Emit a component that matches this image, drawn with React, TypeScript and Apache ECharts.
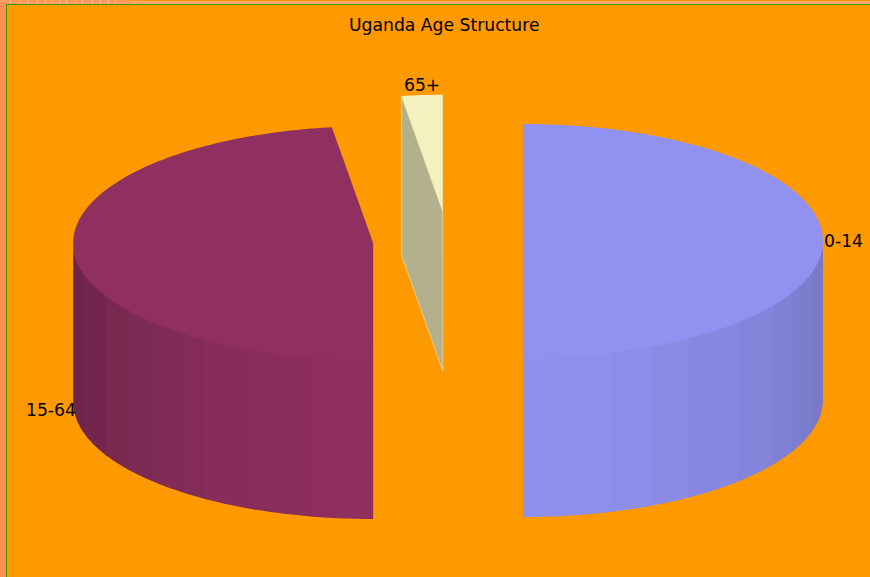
import React, { useEffect, useRef } from "react";
import * as echarts from "echarts";

const TITLE = "Uganda Age Structure";
const sliceNames = ["0-14", "15-64", "65+"];
const sliceValues = [50.0, 47.8, 2.2];
const topColors = ["#9191F1", "#903060", "#F3F1BF"];
const wallRGB = [
  [145, 145, 241],
  [144, 48, 96],
  [179, 176, 142],
];
const wallShade = [0.17, 0.26, 0];
const bandEdges = [
  [0, 6, 17, 25, 33, 45.5, 56, 63, 67, 74, 90],
  [0, 11, 23, 33.6, 39.6, 45.2, 54, 62.5, 75, 90],
  [0, 90],
];
const stripes = [10, 19, 28, 37, 45, 51, 60, 66, 75, 82, 92, 100, 108, 115];

const CX = 448;
const CY = 241;
const RX = 300;
const RY = 117;
const DEPTH = 159;
const EXPLODE = 75;

const rad = (d: number) => (d * Math.PI) / 180;

function renderSlice(params: any, api: any) {
  const i = params.dataIndex;
  const total = sliceValues.reduce((a, b) => a + b, 0);
  const before = sliceValues.slice(0, i).reduce((a, b) => a + b, 0);
  const a0 = (before / total) * 360;
  const a1 = ((before + api.value(0)) / total) * 360;
  const mid = (a0 + a1) / 2;
  const cx = CX + EXPLODE * Math.sin(rad(mid));
  const cy = CY - EXPLODE * Math.cos(rad(mid)) * (RY / RX);
  const pt = (a: number, dz = 0): [number, number] => [
    cx + RX * Math.sin(rad(a)),
    cy - RY * Math.cos(rad(a)) + dz,
  ];
  const arc = (from: number, to: number, dz = 0) => {
    const out: [number, number][] = [];
    const n = Math.max(1, Math.ceil(Math.abs(to - from)));
    for (let k = 0; k <= n; k++) out.push(pt(from + ((to - from) * k) / n, dz));
    return out;
  };
  // Upper edge of a wall band: tucked under the top face, flush at the far sides
  const tucked = (from: number, to: number) => {
    const out: [number, number][] = [];
    const n = Math.max(1, Math.ceil(Math.abs(to - from)));
    for (let k = 0; k <= n; k++) {
      const a = from + ((to - from) * k) / n;
      out.push(pt(a, -2 * Math.abs(Math.cos(rad(a)))));
    }
    return out;
  };
  const children: any[] = [];
  const rgb = wallRGB[i];

  // Cut face that looks towards the viewer
  if (-Math.sin(rad(a0)) > 1e-6) {
    const outer = pt(a0);
    const c: [number, number] = [cx, cy];
    children.push({
      type: "polygon",
      shape: { points: [outer, c, [cx, cy + DEPTH], [outer[0], outer[1] + DEPTH]] },
      style: { fill: `rgb(${rgb.join(",")})`, stroke: topColors[i], lineWidth: 1, strokeOpacity: 0.55 },
    });
  }

  // Outer wall, drawn in bands; the bands nearest the front are drawn last and
  // overlap their outer neighbour a little, so no seam shows between them
  const lo = Math.max(a0, 90);
  const hi = Math.min(a1, 270);
  if (hi > lo) {
    const side = lo < 180 ? 1 : -1;
    const edges = bandEdges[i];
    for (let b = edges.length - 2; b >= 0; b--) {
      const p = side > 0 ? 180 - edges[b + 1] : 180 + edges[b];
      const q = side > 0 ? 180 - edges[b] : 180 + edges[b + 1];
      const from = Math.max(side > 0 ? p - 0.5 : p, lo);
      const to = Math.min(side > 0 ? q : q + 0.5, hi);
      if (to <= from) continue;
      const off = (edges[b] + edges[b + 1]) / 2 / 90;
      const f = 0.985 - wallShade[i] * off * off * (2 - off);
      const fill = `rgb(${rgb.map((v) => Math.round(v * f)).join(",")})`;
      children.push({
        type: "polygon",
        shape: { points: [...tucked(from, to), ...arc(to, from, DEPTH)] },
        style: { fill },
      });
    }
  }

  // Top face
  children.push({
    type: "polygon",
    shape: { points: [[cx, cy], ...arc(a0, a1)] },
    style: { fill: topColors[i] },
  });

  // Label on the rim at the slice's middle angle
  const s = Math.sin(rad(mid));
  const c = Math.cos(rad(mid));
  const at = pt(mid, c < 0 ? DEPTH : 0);
  children.push({
    type: "text",
    x: at[0] + (s > 0.5 ? 1 : s < -0.5 ? 2 : 0),
    y: at[1] + (c > 0.9 ? -2 : 0),
    style: {
      text: sliceNames[i],
      fill: "#000000",
      font: "17.2px 'DejaVu Sans'",
      align: s > 0.5 ? "left" : s < -0.5 ? "right" : "center",
      verticalAlign: c > 0.9 ? "bottom" : "middle",
    },
  });
  return { type: "group", children };
}

export default function App() {
  const ref = useRef<HTMLDivElement>(null);
  useEffect(() => {
    const chart = echarts.init(ref.current!, undefined, { renderer: "svg" });
    chart.setOption({
      animation: false,
      backgroundColor: "#FF9900",
      title: {
        text: TITLE,
        left: 349,
        top: 16,
        padding: 0,
        textStyle: { fontFamily: "DejaVu Sans", fontSize: 17.2, fontWeight: "normal", color: "#000000" },
      },
      graphic: [
        { type: "rect", z: 10, shape: { x: 0, y: 0, width: 6, height: 577 }, style: { fill: "#FF8F50" } },
        { type: "rect", z: 10, shape: { x: 0, y: 0, width: 130, height: 4 }, style: { fill: "#FF9A5C" } },
        { type: "rect", z: 10, shape: { x: 130, y: 1, width: 740, height: 3 }, style: { fill: "#FFA76E" } },
        ...stripes.map((x) => ({
          type: "rect",
          z: 11,
          shape: { x, y: 0, width: 1, height: 4 },
          style: { fill: "#FFBE94" },
        })),
        { type: "rect", z: 12, shape: { x: 6, y: 4, width: 1, height: 573 }, style: { fill: "#3F9A00" } },
        { type: "rect", z: 12, shape: { x: 6, y: 4, width: 864, height: 1 }, style: { fill: "#3F9A00" } },
      ],
      series: [
        {
          type: "custom",
          coordinateSystem: "none",
          silent: true,
          renderItem: renderSlice,
          data: sliceValues.map((v, k) => ({ name: sliceNames[k], value: [v] })),
        },
      ],
    });
    return () => chart.dispose();
  }, []);
  return <div ref={ref} style={{ position: "fixed", left: 0, top: 0, width: 870, height: 577 }} />;
}
